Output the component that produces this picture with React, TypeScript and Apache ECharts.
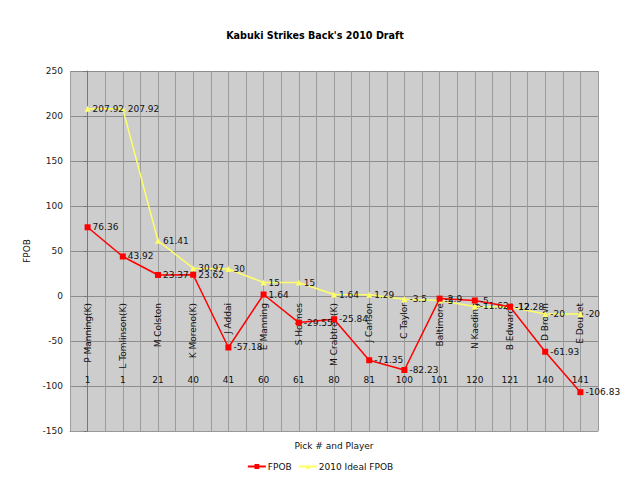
import React, { useEffect, useRef } from "react";
import * as echarts from "echarts";

const players = ["P Manning(K)", "L Tomlinson(K)", "M Colston", "K Moreno(K)", "J Addai", "E Manning", "S Holmes", "M Crabtree(K)", "J Carlson", "C Taylor", "Baltimore", "N Kaeding", "B Edwards", "D Brown", "E Doucet"];
const picks = ["1", "1", "21", "40", "41", "60", "61", "80", "81", "100", "101", "120", "121", "140", "141"];
const fpob = [76.36, 43.92, 23.37, 23.62, -57.18, 1.64, -29.55, -25.84, -71.35, -82.23, -2.9, -5, -12, -61.93, -106.83];
const ideal = [207.92, 207.92, 61.41, 30.97, 30, 15, 15, 1.64, 1.29, -3.5, -5, -11.62, -12.28, -20, -20];

const FONT = "DejaVu Sans";

export default function App() {
  const ref = useRef<HTMLDivElement>(null);
  useEffect(() => {
    const chart = echarts.init(ref.current!, null, { renderer: "svg" });
    const labelStyle = {
      show: true,
      position: "right",
      distance: 2,
      fontFamily: FONT,
      fontSize: 9,
      color: "#111",
    };
    chart.setOption({
      animation: false,
      backgroundColor: "#ffffff",
      title: {
        text: "Kabuki Strikes Back's 2010 Draft",
        left: 310,
        top: 25,
        textAlign: "center",
        textStyle: { fontFamily: FONT, fontSize: 9.6, fontWeight: "bold", color: "#000" },
      },
      legend: {
        data: ["FPOB", "2010 Ideal FPOB"],
        left: "center",
        top: 457,
        itemWidth: 18,
        itemHeight: 6,
        itemGap: 6,
        textStyle: { fontFamily: FONT, fontSize: 9, color: "#111", padding: [0, 0, 0, -3] },
      },
      grid: {
        left: 70,
        right: 42,
        top: 71,
        bottom: 64,
        show: true,
        backgroundColor: "#cdcdcd",
        borderWidth: 0,
      },
      xAxis: [
        {
          type: "category",
          data: players,
          boundaryGap: true,
          position: "bottom",
          axisLine: { show: false },
          axisTick: { show: false },
          splitLine: { show: false },
          axisLabel: {
            interval: 0,
            inside: true,
            rotate: 90,
            align: "right",
            verticalAlign: "middle",
            margin: 128,
            fontFamily: FONT,
            fontSize: 9,
            color: "#111",
          },
        },
        {
          type: "category",
          data: picks,
          boundaryGap: true,
          position: "bottom",
          axisLine: { show: false },
          axisTick: { show: false },
          splitLine: { show: false },
          axisLabel: {
            interval: 0,
            inside: true,
            margin: 47,
            fontFamily: FONT,
            fontSize: 9,
            color: "#111",
          },
        },
        {
          type: "value",
          min: -0.5,
          max: 14.5,
          interval: 0.5,
          position: "bottom",
          name: "Pick # and Player",
          nameLocation: "middle",
          nameGap: 10,
          nameTextStyle: { fontFamily: FONT, fontSize: 9, color: "#111" },
          axisLine: { show: true, lineStyle: { color: "#999999", width: 1 } },
          axisTick: { show: false },
          axisLabel: { show: false },
          splitLine: { show: true, lineStyle: { color: "#9c9c9c", width: 1 } },
        },
      ],
      yAxis: {
        type: "value",
        min: -150,
        max: 250,
        interval: 50,
        name: "FPOB",
        nameLocation: "middle",
        nameGap: 34,
        nameTextStyle: { fontFamily: FONT, fontSize: 9, color: "#111" },
        axisLine: { show: true, lineStyle: { color: "#777777", width: 1 } },
        axisTick: { show: true, length: 4, lineStyle: { color: "#777777" } },
        axisLabel: { margin: 7, fontFamily: FONT, fontSize: 9, color: "#222" },
        splitLine: { show: true, lineStyle: { color: "#8c8c8c", width: 1 } },
      },
      series: [
        {
          name: "2010 Ideal FPOB",
          type: "line",
          xAxisIndex: 0,
          data: ideal,
          color: "#ffff66",
          symbol: "triangle",
          symbolSize: 6,
          lineStyle: { color: "#ffff66", width: 1.5 },
          itemStyle: { color: "#ffff66" },
          label: labelStyle,
          z: 2,
        },
        {
          name: "FPOB",
          type: "line",
          xAxisIndex: 0,
          data: fpob,
          color: "#ff0000",
          symbol: "rect",
          symbolSize: 6,
          lineStyle: { color: "#ff0000", width: 1.5 },
          itemStyle: { color: "#ff0000" },
          label: labelStyle,
          z: 3,
        },
      ],
    });
    return () => chart.dispose();
  }, []);
  return <div ref={ref} style={{ position: "fixed", left: 0, top: 0, width: 640, height: 495 }} />;
}
